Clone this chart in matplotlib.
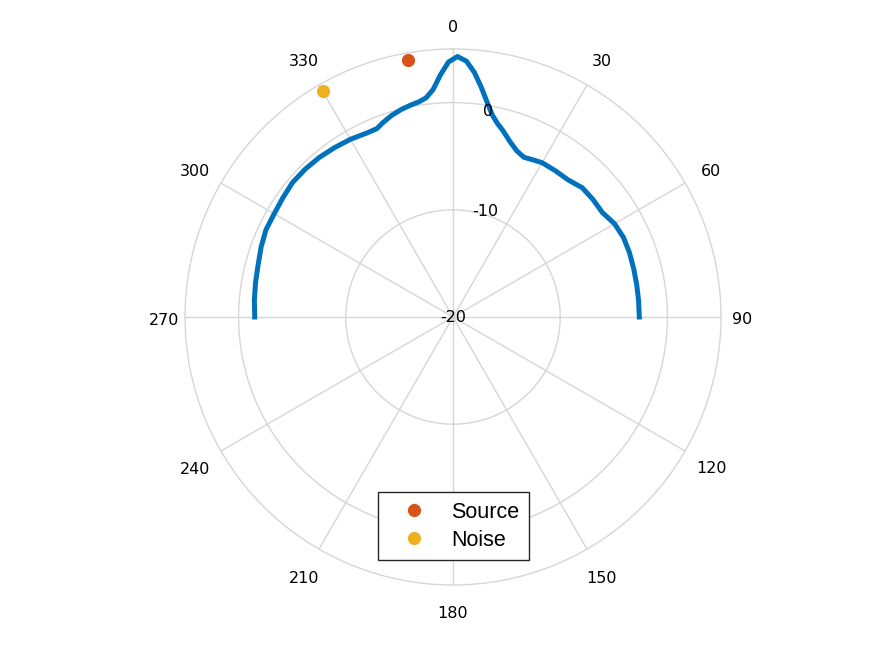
import numpy as np
import matplotlib
matplotlib.use("Agg")
import matplotlib.pyplot as plt
from matplotlib.lines import Line2D

# --- Data ------------------------------------------------------------------
pattern_deg = [-90, -85, -80, -75, -70, -65, -60, -55, -50, -45, -40, -35, -30,
               -25, -22, -20, -17, -14, -11, -9, -7, -5, -3, -1, 1, 3, 5, 7, 9,
               11, 13, 15, 18, 21, 24, 27, 30, 35, 40, 45, 50, 55, 60, 65, 70,
               75, 80, 85, 90]
pattern_db = [-1.50, -1.40, -1.30, -1.18, -0.95, -0.75, -0.74, -0.62, -0.47,
              -0.50, -0.58, -0.72, -0.86, -1.05, -1.05, -0.75, -0.35, -0.05,
              0.18, 0.32, 0.60, 1.30, 2.60, 3.80, 4.30, 3.90, 2.90, 1.60, 0.30,
              -0.80, -1.50, -2.00, -2.80, -3.40, -3.70, -3.55, -3.38, -3.35,
              -3.30, -2.95, -2.95, -3.00, -2.60, -2.45, -2.48, -2.55, -2.60,
              -2.62, -2.62]

source_deg = [350]
source_db = [4.3]
noise_deg = [330]
noise_db = [4.3]

r_ticks = [-20, -10, 0]
r_min, r_max = -20, 5
theta_ticks = list(range(0, 360, 30))

BLUE = "#0072BD"
ORANGE = "#D95319"
YELLOW = "#EDB120"
GRID = "#d6d6d6"

# --- Figure ----------------------------------------------------------------
fig = plt.figure(figsize=(8.75, 6.56), dpi=100)
cx, cy, rad = 453, 317, 268
ax = fig.add_axes([(cx - rad) / 875, 1 - (cy + rad) / 656, 2 * rad / 875, 2 * rad / 656],
                  projection="polar")
ax.set_theta_zero_location("N")
ax.set_theta_direction(-1)
ax.set_ylim(r_min, r_max)

ax.set_xticks(np.deg2rad(theta_ticks))
ax.set_xticklabels([])
ax.set_yticks(r_ticks)
ax.set_yticklabels([])
ax.grid(True, color=GRID, linewidth=1.0)
ax.spines["polar"].set_color(GRID)
ax.spines["polar"].set_linewidth(1.0)
ax.tick_params(length=0)

# curve + points
ax.plot(np.deg2rad(pattern_deg), pattern_db, color=BLUE, linewidth=3.6,
        solid_joinstyle="round", zorder=3)
ax.plot(np.deg2rad(source_deg), source_db, "o", color=ORANGE, markersize=8.5,
        clip_on=False, zorder=4)
ax.plot(np.deg2rad(noise_deg), noise_db, "o", color=YELLOW, markersize=8.5,
        clip_on=False, zorder=4)

# theta labels, placed just outside the outer ring
px_per_db = rad / (r_max - r_min)
for t in theta_ticks:
    if t % 180 == 0:
        extra = 25      # top / bottom
    elif t % 90 == 0:
        extra = 21      # left / right
    else:
        extra = 30      # diagonals
    ax.annotate(str(t), xy=(np.deg2rad(t), r_max + extra / px_per_db),
                xytext=(0, -3), textcoords="offset pixels",
                ha="center", va="center", fontsize=11.5, family="DejaVu Sans",
                annotation_clip=False)

# radial labels
offsets = {-20: (0, -1), -10: (32, -2), 0: (35, -9)}
for r in r_ticks:
    dx, dy = offsets[r]
    ax.annotate(str(r), xy=(0, r), xytext=(dx, dy), textcoords="offset pixels",
                ha="center", va="center", fontsize=11.5, family="DejaVu Sans",
                zorder=5)

# legend
handles = [
    Line2D([0], [0], marker="o", color="none", markerfacecolor=ORANGE,
           markeredgecolor=ORANGE, markersize=8.5, label="Source"),
    Line2D([0], [0], marker="o", color="none", markerfacecolor=YELLOW,
           markeredgecolor=YELLOW, markersize=8.5, label="Noise"),
]
leg = fig.legend(handles=handles, loc="upper left", bbox_to_anchor=(378 / 875, 1 - 492 / 656),
                 borderaxespad=0, fancybox=False, framealpha=1, edgecolor="#262626",
                 prop={"family": "Liberation Sans", "size": 15.5},
                 handlelength=2.4, handletextpad=0.55, labelspacing=0.32,
                 borderpad=0.45)
leg.get_frame().set_linewidth(1.0)

fig.savefig("out.png", dpi=100, facecolor="white")
